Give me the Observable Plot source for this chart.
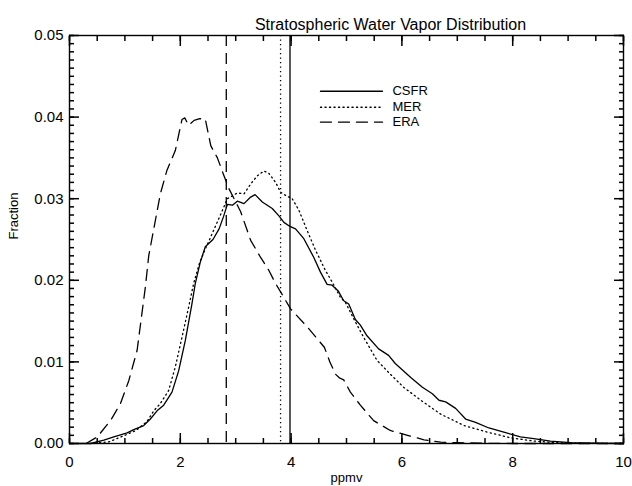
<!DOCTYPE html>
<html>
<head>
<meta charset="utf-8">
<script src="https://cdn.jsdelivr.net/npm/d3@7"></script>
<script src="https://cdn.jsdelivr.net/npm/@observablehq/plot@0.6"></script>
<style>
  html, body { margin: 0; padding: 0; background: #fff; }
</style>
</head>
<body>
<div id="chart"></div>
<script>
// ---- data ----
const titleText = "Stratospheric Water Vapor Distribution";
const xLabel = "ppmv";
const yLabel = "Fraction";
const seriesNames = ["CSFR", "MER", "ERA"];

const csfrX = [0, 0.38, 0.62, 0.80, 1.04, 1.16, 1.34, 1.46, 1.58, 1.70, 1.85, 1.97, 2.09, 2.21, 2.27, 2.36, 2.45, 2.59, 2.70, 2.78, 2.85, 2.94, 3.03, 3.15, 3.27, 3.35, 3.48, 3.66, 3.78, 3.87, 3.98, 4.08, 4.23, 4.41, 4.53, 4.65, 4.74, 4.85, 4.95, 5.04, 5.16, 5.25, 5.37, 5.58, 5.76, 5.88, 6.16, 6.37, 6.55, 6.67, 6.79, 6.97, 7.15, 7.33, 7.57, 7.84, 8.14, 8.38, 8.68, 9.04, 9.5, 10];
const csfrY = [0, 0.0000, 0.0004, 0.0008, 0.0013, 0.0017, 0.0022, 0.0030, 0.0040, 0.0047, 0.0063, 0.0089, 0.0126, 0.0171, 0.0196, 0.0222, 0.0241, 0.0250, 0.0263, 0.0278, 0.0293, 0.0292, 0.0297, 0.0294, 0.0302, 0.0305, 0.0296, 0.0288, 0.0279, 0.0271, 0.0266, 0.0263, 0.0251, 0.0228, 0.0210, 0.0195, 0.0194, 0.0187, 0.0175, 0.0171, 0.0152, 0.0145, 0.0132, 0.0116, 0.0108, 0.0098, 0.0081, 0.0069, 0.0061, 0.0053, 0.0051, 0.0043, 0.0030, 0.0026, 0.0019, 0.0014, 0.0008, 0.0006, 0.0003, 0.0001, 0.00003, 0];

const merX = [0.38, 0.71, 1.0, 1.2, 1.4, 1.52, 1.64, 1.79, 1.91, 2.03, 2.15, 2.24, 2.35, 2.45, 2.60, 2.73, 2.85, 3.03, 3.15, 3.27, 3.39, 3.51, 3.60, 3.72, 3.81, 3.90, 4.02, 4.14, 4.29, 4.44, 4.62, 4.74, 4.89, 4.98, 5.13, 5.31, 5.55, 5.79, 6.03, 6.34, 6.70, 7.12, 7.54, 7.96, 8.38, 8.8, 9.3, 10];
const merY = [0, 0.0002, 0.0010, 0.0016, 0.0027, 0.0040, 0.0049, 0.0065, 0.0094, 0.0130, 0.0167, 0.0196, 0.0222, 0.0238, 0.0261, 0.0281, 0.0300, 0.0307, 0.0306, 0.0318, 0.0328, 0.0334, 0.0331, 0.0320, 0.0308, 0.0304, 0.0300, 0.0286, 0.0261, 0.0237, 0.0212, 0.0198, 0.0179, 0.0173, 0.0153, 0.0130, 0.0102, 0.0085, 0.0069, 0.0053, 0.0036, 0.0022, 0.0014, 0.0007, 0.0003, 0.0001, 0.00002, 0];

const eraX = [0.30, 0.5, 0.74, 0.92, 1.07, 1.22, 1.37, 1.43, 1.64, 1.76, 1.91, 2.03, 2.08, 2.15, 2.25, 2.35, 2.45, 2.55, 2.67, 2.75, 2.88, 2.97, 3.09, 3.27, 3.45, 3.60, 3.72, 3.87, 3.99, 4.29, 4.60, 4.70, 4.80, 4.88, 4.95, 5.07, 5.25, 5.49, 5.79, 6.10, 6.40, 6.70, 7.0, 7.5, 8.0, 10];
const eraY = [0, 0.0008, 0.0028, 0.0049, 0.0077, 0.0114, 0.0192, 0.0230, 0.0306, 0.0335, 0.0359, 0.0397, 0.0399, 0.0390, 0.0396, 0.0398, 0.0398, 0.0365, 0.0350, 0.0335, 0.0312, 0.0300, 0.0284, 0.0249, 0.0228, 0.0212, 0.0196, 0.0179, 0.0165, 0.0143, 0.0118, 0.0100, 0.0085, 0.0080, 0.0078, 0.0063, 0.0047, 0.0028, 0.0016, 0.0010, 0.00045, 0.00016, 0.0001, 0.00003, 0, 0];

const meanValues = [3.98, 3.81, 2.83];   // CSFR, MER, ERA means

const xMajorTicks = [0, 2, 4, 6, 8, 10];
const xMinorTicks = d3.range(0, 10.001, 0.5);
const yMajorTicks = [0, 0.01, 0.02, 0.03, 0.04, 0.05];
const yMinorTicks = d3.range(0, 0.05001, 0.001);

// ---- layout & styles ----
const dashes = [null, "1.2,3.3", "11,7"];
const font = "'Liberation Sans', Arial, sans-serif";
const tickStroke = {stroke: "black", strokeWidth: 1.5};

const series = seriesNames.map((name, i) => {
  const xs = [csfrX, merX, eraX][i], ys = [csfrY, merY, eraY][i];
  return xs.map((x, j) => ({name, x, y: ys[j]}));
});

// legend placed in data units (upper area of the plot)
const legendX1 = 4.53, legendX2 = 5.65, legendTextX = 5.83;
const legendY = [0.04317, 0.04121, 0.03938];
const legendLines = seriesNames.map((name, i) => [
  {name, x: legendX1, y: legendY[i]}, {name, x: legendX2, y: legendY[i]}
]);
const legendLabels = seriesNames.map((name, i) => ({name, x: legendTextX, y: legendY[i]}));

// inward ticks on all four sides (negative tickSize points into the frame)
const blank = () => "";
const inwardAxes = [
  Plot.axisX({anchor: "bottom", ticks: xMinorTicks, tickSize: -5, tickFormat: blank, label: null, ...tickStroke}),
  Plot.axisX({anchor: "bottom", ticks: xMajorTicks, tickSize: -10, tickFormat: blank, label: null, ...tickStroke}),
  Plot.axisX({anchor: "top", ticks: xMinorTicks, tickSize: -5, tickFormat: blank, label: null, ...tickStroke}),
  Plot.axisX({anchor: "top", ticks: xMajorTicks, tickSize: -10, tickFormat: blank, label: null, ...tickStroke}),
  Plot.axisY({anchor: "left", ticks: yMinorTicks, tickSize: -5, tickFormat: blank, label: null, ...tickStroke}),
  Plot.axisY({anchor: "left", ticks: yMajorTicks, tickSize: -10, tickFormat: blank, label: null, ...tickStroke}),
  Plot.axisY({anchor: "right", ticks: yMinorTicks, tickSize: -5, tickFormat: blank, label: null, ...tickStroke}),
  Plot.axisY({anchor: "right", ticks: yMajorTicks, tickSize: -10, tickFormat: blank, label: null, ...tickStroke})
];

const chart = Plot.plot({
  width: 632,
  height: 486,
  marginLeft: 69,
  marginRight: 9,
  marginTop: 35,
  marginBottom: 43,
  style: {fontFamily: font, fontSize: "15px"},
  x: {domain: [0, 10]},
  y: {domain: [0, 0.05]},
  marks: [
    ...inwardAxes,
    // tick labels
    Plot.axisX({anchor: "bottom", ticks: xMajorTicks, tickSize: 0, tickPadding: 13, tickFormat: d3.format("d"), label: null, fontSize: 15}),
    Plot.axisY({anchor: "left", ticks: yMajorTicks, tickSize: 0, tickPadding: 6, tickFormat: d3.format(".2f"), label: null, fontSize: 15}),
    Plot.frame({stroke: "black", strokeWidth: 1.4}),
    // mean lines
    ...meanValues.map((v, i) => Plot.ruleX([v], {stroke: "black", strokeWidth: 1.3, strokeDasharray: dashes[i]})),
    // curves
    ...series.map((d, i) => Plot.line(d, {x: "x", y: "y", stroke: "black", strokeWidth: 1.3, strokeDasharray: dashes[i]})),
    // legend
    ...legendLines.map((d, i) => Plot.line(d, {x: "x", y: "y", stroke: "black", strokeWidth: 1.3, strokeDasharray: dashes[i]})),
    Plot.text(legendLabels, {x: "x", y: "y", text: "name", textAnchor: "start", fontSize: 13, fill: "black"}),
    // titles
    Plot.text([titleText], {frameAnchor: "top", dy: -17, dx: 44, fontSize: 16, fill: "black"}),
    Plot.text([xLabel], {frameAnchor: "bottom", dy: 38, fontSize: 13, fill: "black"}),
    Plot.text([yLabel], {frameAnchor: "left", dx: -56, rotate: -90, fontSize: 13, fill: "black"})
  ]
});
document.getElementById("chart").appendChild(chart);
</script>
</body>
</html>
